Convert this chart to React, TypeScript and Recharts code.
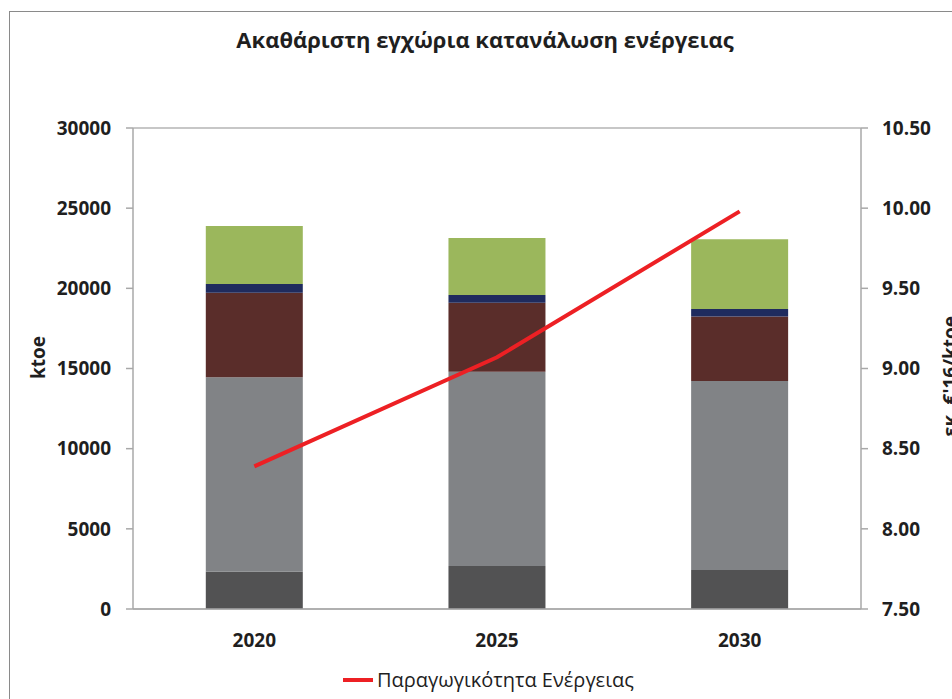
import {
  ComposedChart,
  Bar,
  Line,
  XAxis,
  YAxis,
  CartesianGrid,
  Legend,
} from "recharts";

const years = ["2020", "2025", "2030"];
const darkGray = [2330, 2680, 2430];
const gray = [12120, 12120, 11790];
const maroon = [5280, 4300, 4020];
const navy = [540, 490, 470];
const green = [3620, 3550, 4350];
const productivity = [8.39, 9.07, 9.98];

const leftTicks = [0, 5000, 10000, 15000, 20000, 25000, 30000];
const rightTicks = [7.5, 8, 8.5, 9, 9.5, 10, 10.5];

const FONT = "'Open Sans', sans-serif";

const rows = years.map((y, i) => ({
  year: y,
  darkGray: darkGray[i],
  gray: gray[i],
  maroon: maroon[i],
  navy: navy[i],
  green: green[i],
  prod: productivity[i],
}));

const tickStyle = { fontSize: 19, fontWeight: 700, fill: "#1f1f1f", fontFamily: FONT };

function LegendBox() {
  return (
    <div style={{ display: "flex", alignItems: "center", fontFamily: FONT, fontSize: 20, color: "#1f1f1f" }}>
      <svg width={32} height={10} style={{ marginRight: 3 }}>
        <line x1={1} y1={5} x2={31} y2={5} stroke="#ed2024" strokeWidth={4} />
      </svg>
      <span>Παραγωγικότητα Ενέργειας</span>
    </div>
  );
}

export default function App() {
  return (
    <div
      style={{
        position: "absolute",
        left: 0,
        top: 0,
        width: 952,
        height: 699,
        overflow: "hidden",
        background: "#fff",
      }}
    >
      <div
        style={{
          position: "absolute",
          left: 9,
          top: 11,
          width: 1000,
          height: 800,
          borderTop: "1.5px solid #8a8a8a",
          borderLeft: "1.5px solid #8a8a8a",
        }}
      />
      <div
        style={{
          position: "absolute",
          left: 0,
          top: 24,
          width: 970,
          textAlign: "center",
          fontFamily: FONT,
          fontWeight: 700,
          fontSize: 22,
          color: "#1f1f1f",
        }}
      >
        Ακαθάριστη εγχώρια κατανάλωση ενέργειας
      </div>
      <ComposedChart
        width={952}
        height={699}
        data={rows}
        margin={{ top: 128, right: 11, bottom: 30, left: 53 }}
        barCategoryGap="30%"
      >
        <CartesianGrid vertical={false} stroke="#b5b5b5" strokeWidth={1.5} />
        <XAxis
          dataKey="year"
          height={60}
          tickLine={false}
          axisLine={{ stroke: "#a8a8a8", strokeWidth: 1.5 }}
          tick={tickStyle}
          tickMargin={19}
        />
        <YAxis
          yAxisId="left"
          width={80}
          domain={[0, 30000]}
          ticks={leftTicks}
          interval={0}
          tick={tickStyle}
          tickSize={7}
          tickMargin={15}
          axisLine={{ stroke: "#a8a8a8", strokeWidth: 1.5 }}
          tickLine={{ stroke: "#a8a8a8", strokeWidth: 1.5 }}
          label={{
            value: "ktoe",
            angle: -90,
            position: "insideLeft",
            offset: -15,
            dy: -11,
            style: { fontSize: 19, fontWeight: 700, fill: "#1f1f1f", fontFamily: FONT, textAnchor: "middle" },
          }}
        />
        <YAxis
          yAxisId="right"
          orientation="right"
          width={80}
          domain={[7.5, 10.5]}
          ticks={rightTicks}
          interval={0}
          tickFormatter={(v: number) => v.toFixed(2)}
          tick={tickStyle}
          tickSize={7}
          tickMargin={14}
          axisLine={{ stroke: "#a8a8a8", strokeWidth: 1.5 }}
          tickLine={{ stroke: "#a8a8a8", strokeWidth: 1.5 }}
          label={{
            value: "εκ. €'16/ktoe",
            angle: -90,
            position: "insideRight",
            offset: -9,
            dy: 8,
            style: { fontSize: 19, fontWeight: 700, fill: "#1f1f1f", fontFamily: FONT, textAnchor: "middle" },
          }}
        />
        <Bar yAxisId="left" dataKey="darkGray" stackId="a" fill="#525253" isAnimationActive={false} legendType="none" />
        <Bar yAxisId="left" dataKey="gray" stackId="a" fill="#818386" isAnimationActive={false} legendType="none" />
        <Bar yAxisId="left" dataKey="maroon" stackId="a" fill="#5a2d2a" isAnimationActive={false} legendType="none" />
        <Bar yAxisId="left" dataKey="navy" stackId="a" fill="#1f2b5e" isAnimationActive={false} legendType="none" />
        <Bar yAxisId="left" dataKey="green" stackId="a" fill="#9bb75c" isAnimationActive={false} legendType="none" />
        <Line
          yAxisId="right"
          type="linear"
          dataKey="prod"
          name="Παραγωγικότητα Ενέργειας"
          stroke="#ed2024"
          strokeWidth={4}
          dot={false}
          isAnimationActive={false}
        />
        <Legend
          verticalAlign="middle"
          align="center"
          content={() => <LegendBox />}
          wrapperStyle={{ left: 342, top: 666, width: "auto" }}
        />
      </ComposedChart>
    </div>
  );
}
